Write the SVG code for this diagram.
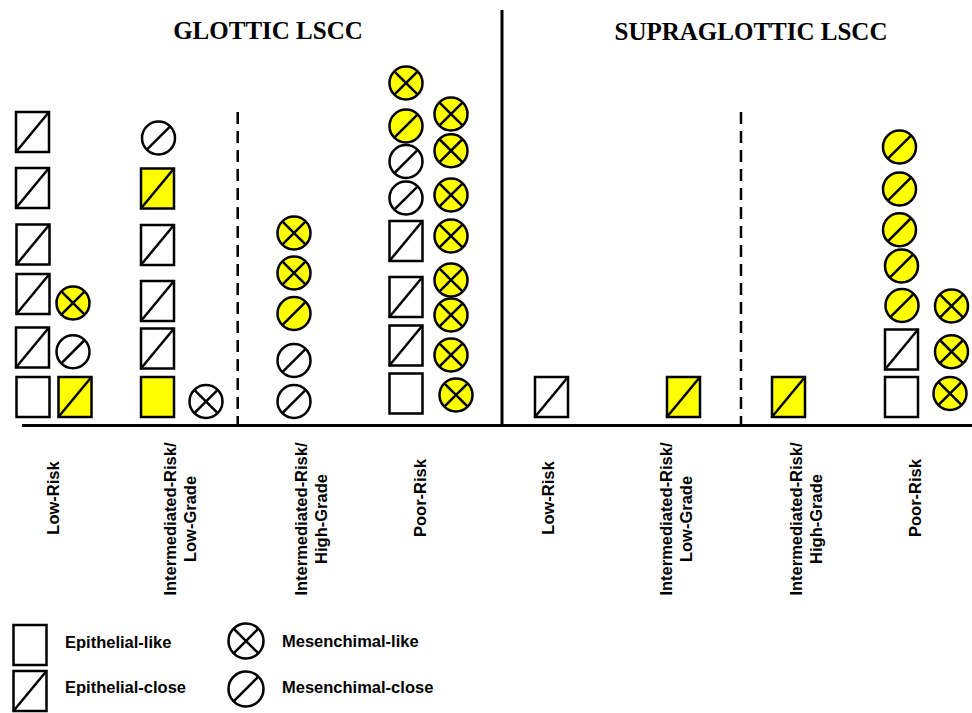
<svg xmlns="http://www.w3.org/2000/svg" xmlns:xlink="http://www.w3.org/1999/xlink" width="972" height="713" viewBox="0 0 972 713">
<style>
.title{font-family:"Liberation Serif","Times New Roman",serif;font-weight:bold;font-size:25px;fill:#000;text-anchor:middle}
.lab{font-family:"Liberation Sans",Arial,sans-serif;font-weight:bold;font-size:16.5px;fill:#000;text-anchor:middle}
.leg{font-family:"Liberation Sans",Arial,sans-serif;font-weight:bold;font-size:16.5px;fill:#000}
.w{fill:#ffffff}
.y{fill:#ffff00}
.axis{stroke:#000;stroke-width:3;fill:none}
.dash{stroke:#000;stroke-width:2.5;stroke-dasharray:12 7;fill:none}
</style>
<defs>
<g id="sqE"><rect x="0" y="0" width="33" height="40" stroke="#000" stroke-width="2.5"/></g>
<g id="sqS"><rect x="0" y="0" width="33" height="40" stroke="#000" stroke-width="2.5"/><line x1="-0.5" y1="40.5" x2="33" y2="0" stroke="#000" stroke-width="2.5"/></g>
<g id="ciX"><circle cx="0" cy="0" r="16.5" stroke="#000" stroke-width="2.5"/><line x1="-11.7" y1="-11.7" x2="11.7" y2="11.7" stroke="#000" stroke-width="2.5"/><line x1="-11.7" y1="11.7" x2="11.7" y2="-11.7" stroke="#000" stroke-width="2.5"/></g>
<g id="ciS"><circle cx="0" cy="0" r="16.5" stroke="#000" stroke-width="2.5"/><line x1="-11.7" y1="11.7" x2="11.7" y2="-11.7" stroke="#000" stroke-width="2.5"/></g>
</defs>
<rect x="0" y="0" width="972" height="713" fill="#ffffff"/>

<text class="title" x="268" y="39">GLOTTIC LSCC</text>
<text class="title" x="751" y="40">SUPRAGLOTTIC LSCC</text>

<g id="connectors">
<line class="axis" x1="22" y1="425.5" x2="972" y2="425.5"/>
<line class="axis" x1="502" y1="10" x2="502" y2="425"/>
<line class="dash" x1="237.7" y1="112" x2="237.7" y2="425"/>
<line class="dash" x1="741" y1="112" x2="741" y2="425"/>
</g>

<!-- Glottic Low-Risk -->
<g id="gl-lr-1"><use xlink:href="#sqS" class="w" x="16" y="112"/></g>
<g id="gl-lr-2"><use xlink:href="#sqS" class="w" x="16" y="168"/></g>
<g id="gl-lr-3"><use xlink:href="#sqS" class="w" x="16.5" y="224.5"/></g>
<g id="gl-lr-4"><use xlink:href="#sqS" class="w" x="16.5" y="274"/></g>
<g id="gl-lr-5"><use xlink:href="#sqS" class="w" x="16" y="327.5"/></g>
<g id="gl-lr-6"><use xlink:href="#sqE" class="w" x="16.5" y="377"/></g>
<g id="gl-lr-7"><use xlink:href="#ciX" class="y" x="73" y="303"/></g>
<g id="gl-lr-8"><use xlink:href="#ciS" class="w" x="73" y="351.7"/></g>
<g id="gl-lr-9"><use xlink:href="#sqS" class="y" x="58.5" y="377"/></g>

<!-- Glottic Intermediated-Risk / Low-Grade -->
<g id="gl-il-1"><use xlink:href="#ciS" class="w" x="158.5" y="138"/></g>
<g id="gl-il-2"><use xlink:href="#sqS" class="y" x="141" y="168.5"/></g>
<g id="gl-il-3"><use xlink:href="#sqS" class="w" x="141" y="225"/></g>
<g id="gl-il-4"><use xlink:href="#sqS" class="w" x="141" y="281"/></g>
<g id="gl-il-5"><use xlink:href="#sqS" class="w" x="141" y="328.5"/></g>
<g id="gl-il-6"><use xlink:href="#sqE" class="y" x="141" y="377"/></g>
<g id="gl-il-7"><use xlink:href="#ciX" class="w" x="206" y="401.5"/></g>

<!-- Glottic Intermediated-Risk / High-Grade -->
<g id="gl-ih-1"><use xlink:href="#ciX" class="y" x="294" y="233"/></g>
<g id="gl-ih-2"><use xlink:href="#ciX" class="y" x="294" y="273"/></g>
<g id="gl-ih-3"><use xlink:href="#ciS" class="y" x="294" y="313.5"/></g>
<g id="gl-ih-4"><use xlink:href="#ciS" class="w" x="294" y="360.5"/></g>
<g id="gl-ih-5"><use xlink:href="#ciS" class="w" x="294" y="401.5"/></g>

<!-- Glottic Poor-Risk -->
<g id="gl-pr-1"><use xlink:href="#ciX" class="y" x="406" y="83"/></g>
<g id="gl-pr-2"><use xlink:href="#ciS" class="y" x="406" y="126"/></g>
<g id="gl-pr-3"><use xlink:href="#ciS" class="w" x="406" y="161.5"/></g>
<g id="gl-pr-4"><use xlink:href="#ciS" class="w" x="406" y="198"/></g>
<g id="gl-pr-5"><use xlink:href="#sqS" class="w" x="389.5" y="221"/></g>
<g id="gl-pr-6"><use xlink:href="#sqS" class="w" x="389.5" y="277"/></g>
<g id="gl-pr-7"><use xlink:href="#sqS" class="w" x="389.5" y="325.5"/></g>
<g id="gl-pr-8"><use xlink:href="#sqE" class="w" x="389.5" y="373.5"/></g>
<g id="gl-pr-9"><use xlink:href="#ciX" class="y" x="451" y="114"/></g>
<g id="gl-pr-10"><use xlink:href="#ciX" class="y" x="451" y="150.7"/></g>
<g id="gl-pr-11"><use xlink:href="#ciX" class="y" x="451" y="195"/></g>
<g id="gl-pr-12"><use xlink:href="#ciX" class="y" x="451" y="236"/></g>
<g id="gl-pr-13"><use xlink:href="#ciX" class="y" x="451" y="280"/></g>
<g id="gl-pr-14"><use xlink:href="#ciX" class="y" x="451" y="315"/></g>
<g id="gl-pr-15"><use xlink:href="#ciX" class="y" x="451" y="355"/></g>
<g id="gl-pr-16"><use xlink:href="#ciX" class="y" x="456" y="395"/></g>

<!-- Supraglottic -->
<g id="sg-lr-1"><use xlink:href="#sqS" class="w" x="535" y="377"/></g>
<g id="sg-il-1"><use xlink:href="#sqS" class="y" x="667" y="377"/></g>
<g id="sg-ih-1"><use xlink:href="#sqS" class="y" x="772" y="377"/></g>
<g id="sg-pr-1"><use xlink:href="#ciS" class="y" x="899.5" y="147"/></g>
<g id="sg-pr-2"><use xlink:href="#ciS" class="y" x="899.5" y="189"/></g>
<g id="sg-pr-3"><use xlink:href="#ciS" class="y" x="899.5" y="229.7"/></g>
<g id="sg-pr-4"><use xlink:href="#ciS" class="y" x="901.5" y="266"/></g>
<g id="sg-pr-5"><use xlink:href="#ciS" class="y" x="902" y="305.5"/></g>
<g id="sg-pr-6"><use xlink:href="#sqS" class="w" x="885" y="329.5"/></g>
<g id="sg-pr-7"><use xlink:href="#sqE" class="w" x="885" y="377"/></g>
<g id="sg-pr-8"><use xlink:href="#ciX" class="y" x="951.5" y="306"/></g>
<g id="sg-pr-9"><use xlink:href="#ciX" class="y" x="951.5" y="351.7"/></g>
<g id="sg-pr-10"><use xlink:href="#ciX" class="y" x="950" y="393.5"/></g>

<!-- Category labels -->
<text class="lab" transform="translate(59,498) rotate(-90)">Low-Risk</text>
<text class="lab" transform="translate(176,519) rotate(-90)">Intermediated-Risk/</text>
<text class="lab" transform="translate(195.5,519) rotate(-90)">Low-Grade</text>
<text class="lab" transform="translate(307,519) rotate(-90)">Intermediated-Risk/</text>
<text class="lab" transform="translate(327,519) rotate(-90)">High-Grade</text>
<text class="lab" transform="translate(426,498) rotate(-90)">Poor-Risk</text>
<text class="lab" transform="translate(553.5,498) rotate(-90)">Low-Risk</text>
<text class="lab" transform="translate(672,519) rotate(-90)">Intermediated-Risk/</text>
<text class="lab" transform="translate(692,519) rotate(-90)">Low-Grade</text>
<text class="lab" transform="translate(802,519) rotate(-90)">Intermediated-Risk/</text>
<text class="lab" transform="translate(822,519) rotate(-90)">High-Grade</text>
<text class="lab" transform="translate(921,498) rotate(-90)">Poor-Risk</text>

<!-- Legend -->
<g id="legend">
<use xlink:href="#sqE" class="w" x="13.5" y="625"/>
<use xlink:href="#sqS" class="w" x="13.5" y="671"/>
<g transform="translate(246,641)"><circle cx="0" cy="0" r="17.5" fill="#fff" stroke="#000" stroke-width="2.5"/><line x1="-12.4" y1="-12.4" x2="12.4" y2="12.4" stroke="#000" stroke-width="2.5"/><line x1="-12.4" y1="12.4" x2="12.4" y2="-12.4" stroke="#000" stroke-width="2.5"/></g>
<g transform="translate(246,689)"><circle cx="0" cy="0" r="17.5" fill="#fff" stroke="#000" stroke-width="2.5"/><line x1="-12.4" y1="12.4" x2="12.4" y2="-12.4" stroke="#000" stroke-width="2.5"/></g>
<text class="leg" x="65" y="647.5">Epithelial-like</text>
<text class="leg" x="65" y="693">Epithelial-close</text>
<text class="leg" x="282" y="646.5">Mesenchimal-like</text>
<text class="leg" x="282" y="693">Mesenchimal-close</text>
</g>
</svg>
